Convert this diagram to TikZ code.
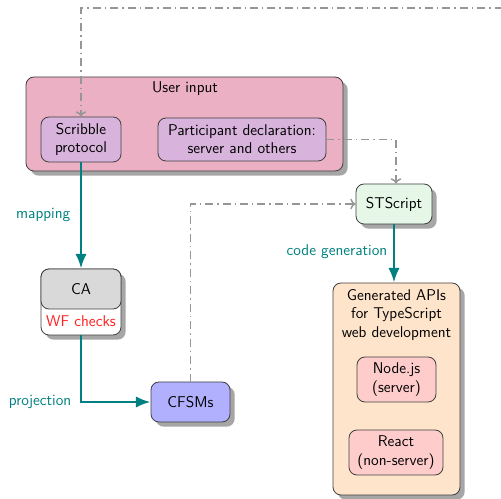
\documentclass[tikz,border=0pt]{standalone}
\usetikzlibrary{arrows.meta,shadows,positioning}
\definecolor{userpink}{RGB}{235,176,196}
\definecolor{innerlilac}{RGB}{216,180,220}
\definecolor{stgreen}{RGB}{230,247,232}
\definecolor{cagrey}{RGB}{217,217,217}
\definecolor{fsmblue}{RGB}{176,176,255}
\definecolor{apipeach}{RGB}{255,228,204}
\definecolor{libpink}{RGB}{255,204,204}
\definecolor{flowteal}{RGB}{0,128,128}
\definecolor{linkgrey}{RGB}{150,150,150}
\definecolor{wfred}{RGB}{255,30,30}
\begin{document}
\begin{tikzpicture}[x=0.75pt,y=-0.75pt,
  every node/.style={font=\sffamily\fontsize{11.7pt}{13.6pt}\selectfont},
  box/.style={draw=black!75, line width=0.6pt, rounded corners=6pt, align=center,
    inner sep=2pt},
  shadowed/.style={drop shadow={shadow xshift=3.5pt, shadow yshift=-3.5pt,
    fill=black!35, opacity=1}},
  flow/.style={draw=flowteal, line width=2pt, -{Latex[length=11pt,width=8.5pt]}},
  flowlabel/.style={text=flowteal, anchor=east},
  link/.style={draw=linkgrey, line width=1.1pt,
    dash pattern=on 6pt off 3pt on 1.1pt off 3pt, -{To[length=4pt,width=8pt]}}]
  \useasboundingbox (0,0) rectangle (501,499);
  \clip (0,0) rectangle (501,499);

  % user input group
  \node[box, shadowed, fill=userpink, minimum width=237.75pt, minimum height=70.5pt]
    (user) at (184.5,124) {};
  \node (usertitle) at (185,89) {User input};
  \node[box, fill=innerlilac, minimum width=60pt, minimum height=33.75pt]
    (scribble) at (81,139.5) {Scribble\\protocol};
  \node[box, fill=innerlilac, minimum width=126pt, minimum height=32.25pt]
    (part) at (242,139.5) {Participant declaration:\\server and others};

  % STScript
  \node[box, shadowed, fill=stgreen, minimum width=57pt, minimum height=30pt]
    (st) at (394,204) {STScript};

  % CA with well-formedness checks
  \node[box, shadowed, fill=white, minimum width=60pt, minimum height=49.5pt]
    (caouter) at (81,302) {};
  \node[box, fill=cagrey, minimum width=60pt, minimum height=30pt]
    (ca) at (81,289) {CA};
  \node[text=wfred] (wf) at (81,321.5) {WF\,\,checks};

  % CFSMs
  \node[box, shadowed, fill=fsmblue, minimum width=59.25pt, minimum height=30pt]
    (cfsms) at (190.5,402) {CFSMs};

  % generated APIs
  \node[box, shadowed, fill=apipeach, minimum width=95.25pt, minimum height=159pt]
    (api) at (396.5,389) {};
  \node[align=center] (apititle) at (396.5,315)
    {Generated APIs\\for TypeScript\\web development};
  \node[box, fill=libpink, minimum width=59.25pt, minimum height=33.75pt]
    (node) at (396.5,379.5) {Node.js\\(server)};
  \node[box, fill=libpink, minimum width=70.5pt, minimum height=33.75pt]
    (react) at (396,452.5) {React\\(non-server)};

  % main flow
  \draw[flow] (scribble.south) -- (caouter.north);
  \node[flowlabel] (mapping) at (75,215) {mapping};
  \draw[flow] (caouter.south) |- (cfsms.west);
  \node[flowlabel] (projection) at (76,402) {projection};
  \draw[flow] (st.south) -- (api.north -| st.south);
  \node[flowlabel] (codegen) at (392,252) {code generation};

  % auxiliary inputs
  \coordinate (offright) at (520,8);
  \draw[link] (offright) -| (scribble.north);
  \draw[link] (part.east) -| ([xshift=1.5pt]st.north);
  \draw[link] (cfsms.north) |- (st.west);
\end{tikzpicture}
\end{document}
